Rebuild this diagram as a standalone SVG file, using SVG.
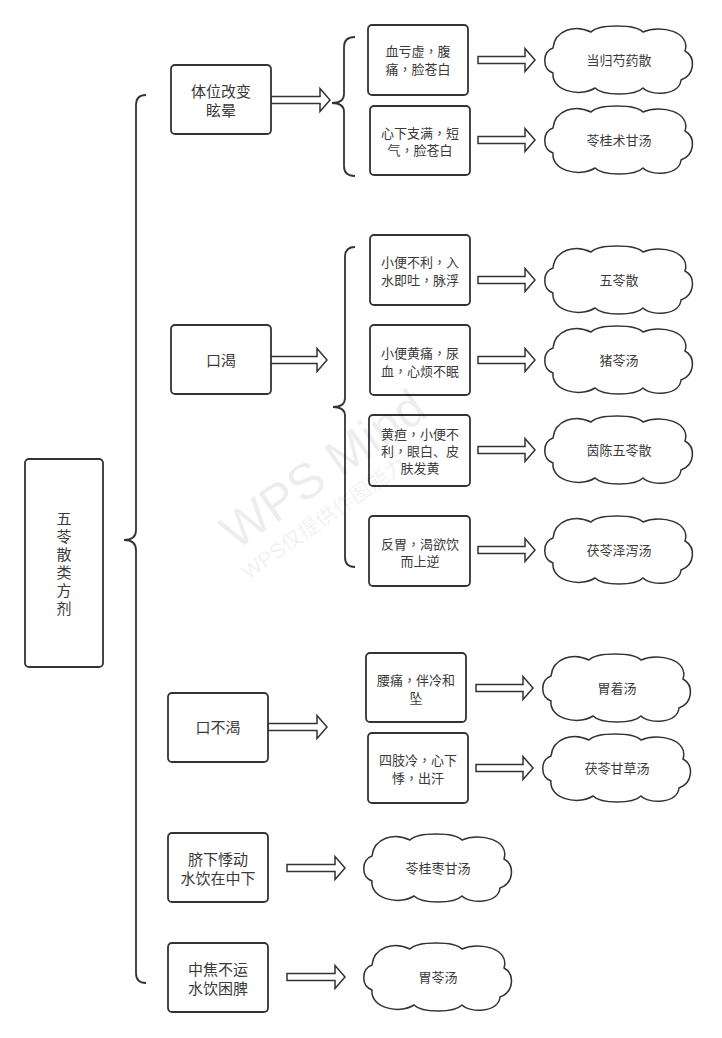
<svg xmlns="http://www.w3.org/2000/svg" xmlns:xlink="http://www.w3.org/1999/xlink" width="722" height="1038" viewBox="0 0 722 1038">
<style>
.box{fill:#fff;stroke:#333;stroke-width:1.8}
.cl{fill:#fff;stroke:#333;stroke-width:1.5}
.ar{fill:#fff;stroke:#333;stroke-width:1.5}
.br{fill:none;stroke:#333;stroke-width:1.8}
.t{font-family:"Liberation Sans","Noto Sans CJK SC",sans-serif;fill:#3a3a3a;text-anchor:middle}
.pc{font-family:"Liberation Sans","Noto Sans CJK TC",sans-serif}
.s15{font-size:15px}
.s13{font-size:13px}
.wm{font-family:"Liberation Sans","Noto Sans CJK SC",sans-serif;fill:#000;fill-opacity:0.07}
</style>
<defs>
<path id="cloud" class="cl" d="M10,22 C12,4 32,-2 48,6 C56,-2 92,-2 100,6 C118,-2 148,6 142,25 C153,31 152,49 138,54 C136,70 108,70 100,62 C92,70 60,70 52,62 C36,72 8,64 10,47 C-1,43 -1,26 10,22 Z"/>
</defs>
<rect width="722" height="1038" fill="#fff"/>
<g id="connectors">
<path class="br" d="M146,95 Q136,95 136,105 V530 Q136,540 124,540 Q136,540 136,550 V973 Q136,983 146,983"/>
<path class="br" d="M355,37 Q344,37 344,47 V94 Q344,103 332,103 Q344,103 344,112 V166 Q344,176 355,176"/>
<path class="br" d="M355,247 Q345,247 345,257 V398 Q345,407 333,407 Q345,407 345,416 V557 Q345,567 355,567"/>
<path class="ar" d="M271,96.5 H320 V88.5 L330,100 L320,111.5 V103.5 H271 Z"/>
<path class="ar" d="M268,356.5 H317 V348.5 L327,360 L317,371.5 V363.5 H268 Z"/>
<path class="ar" d="M268,723.5 H317 V715.5 L327,727 L317,738.5 V730.5 H268 Z"/>
<path class="ar" d="M287,864.5 H335 V856.5 L345,868 L335,879.5 V871.5 H287 Z"/>
<path class="ar" d="M287,973.5 H335 V965.5 L345,977 L335,988.5 V980.5 H287 Z"/>
<path class="ar" d="M478,56.5 H525 V48.5 L535,60 L525,71.5 V63.5 H478 Z"/>
<path class="ar" d="M478,136.5 H525 V128.5 L535,140 L525,151.5 V143.5 H478 Z"/>
<path class="ar" d="M478,276.5 H525 V268.5 L535,280 L525,291.5 V283.5 H478 Z"/>
<path class="ar" d="M478,356.5 H525 V348.5 L535,360 L525,371.5 V363.5 H478 Z"/>
<path class="ar" d="M478,446.5 H525 V438.5 L535,450 L525,461.5 V453.5 H478 Z"/>
<path class="ar" d="M478,546.5 H525 V538.5 L535,550 L525,561.5 V553.5 H478 Z"/>
<path class="ar" d="M476,684.5 H523 V676.5 L533,688 L523,699.5 V691.5 H476 Z"/>
<path class="ar" d="M476,764.5 H523 V756.5 L533,768 L523,779.5 V771.5 H476 Z"/>
</g>
<g id="root">
<rect class="box" x="25" y="459" width="78" height="208" rx="4"/>
<text class="t s15" x="64"><tspan x="64" y="523.5">五</tspan><tspan x="64" y="541.5">苓</tspan><tspan x="64" y="559.5">散</tspan><tspan x="64" y="577.5">类</tspan><tspan x="64" y="595.5">方</tspan><tspan x="64" y="613.5">剂</tspan></text>
</g>
<g id="n-tiwei">
<rect class="box" x="171" y="65" width="100" height="69" rx="4"/>
<text class="t s15"><tspan x="221" y="96.5">体位改变</tspan><tspan x="221" y="115.5">眩晕</tspan></text>
</g>
<g id="n-kouke">
<rect class="box" x="171" y="325" width="100" height="69" rx="4"/>
<text class="t s15" x="221" y="365.5">口渴</text>
</g>
<g id="n-kobuke">
<rect class="box" x="168" y="693" width="100" height="69" rx="4"/>
<text class="t s15" x="218" y="733">口不渴</text>
</g>
<g id="n-qixia">
<rect class="box" x="168" y="833" width="100" height="69" rx="4"/>
<text class="t s15"><tspan x="218" y="864.5">脐下悸动</tspan><tspan x="218" y="883.5">水饮在中下</tspan></text>
</g>
<g id="n-zhongjiao">
<rect class="box" x="168" y="943" width="100" height="69" rx="4"/>
<text class="t s15"><tspan x="218" y="974.5">中焦不运</tspan><tspan x="218" y="993.5">水饮困脾</tspan></text>
</g>
<g id="b1">
<rect class="box" x="368" y="25" width="100" height="70" rx="4"/>
<text class="t s13"><tspan x="418" y="55.7">血亏虚<tspan class="pc">，</tspan>腹</tspan><tspan x="418" y="73.7">痛<tspan class="pc">，</tspan>脸苍白</tspan></text>
</g>
<g id="b2">
<rect class="box" x="370" y="106" width="100" height="69" rx="4"/>
<text class="t s13"><tspan x="420" y="137.7">心下支满<tspan class="pc">，</tspan>短</tspan><tspan x="420" y="154.7">气<tspan class="pc">，</tspan>脸苍白</tspan></text>
</g>
<g id="b3">
<rect class="box" x="370" y="235" width="100" height="70" rx="4"/>
<text class="t s13"><tspan x="420" y="266.7">小便不利<tspan class="pc">，</tspan>入</tspan><tspan x="420" y="284.7">水即吐<tspan class="pc">，</tspan>脉浮</tspan></text>
</g>
<g id="b4">
<rect class="box" x="370" y="325" width="100" height="70" rx="4"/>
<text class="t s13"><tspan x="420" y="357.7">小便黄痛<tspan class="pc">，</tspan>尿</tspan><tspan x="420" y="375.7">血<tspan class="pc">，</tspan>心烦不眠</tspan></text>
</g>
<g id="b5">
<rect class="box" x="369" y="415" width="101" height="71" rx="4"/>
<text class="t s13"><tspan x="420" y="438.7">黄疸<tspan class="pc">，</tspan>小便不</tspan><tspan x="420" y="455.7">利<tspan class="pc">，</tspan>眼白、皮</tspan><tspan x="420" y="472.7">肤发黄</tspan></text>
</g>
<g id="b6">
<rect class="box" x="369" y="516" width="101" height="70" rx="4"/>
<text class="t s13"><tspan x="420" y="548.7">反胃<tspan class="pc">，</tspan>渴欲饮</tspan><tspan x="420" y="565.7">而上逆</tspan></text>
</g>
<g id="b7">
<rect class="box" x="366" y="653" width="100" height="69" rx="4"/>
<text class="t s13"><tspan x="416" y="684.7">腰痛<tspan class="pc">，</tspan>伴冷和</tspan><tspan x="416" y="702.7">坠</tspan></text>
</g>
<g id="b8">
<rect class="box" x="368" y="733" width="100" height="70" rx="4"/>
<text class="t s13"><tspan x="418" y="764.7">四肢冷<tspan class="pc">，</tspan>心下</tspan><tspan x="418" y="782.7">悸<tspan class="pc">，</tspan>出汗</tspan></text>
</g>
<g id="c1"><use xlink:href="#cloud" x="543" y="26"/><text class="t s13" x="619" y="64.7">当归芍药散</text></g>
<g id="c2"><use xlink:href="#cloud" x="543" y="106"/><text class="t s13" x="619" y="144.7">苓桂术甘汤</text></g>
<g id="c3"><use xlink:href="#cloud" x="543" y="246"/><text class="t s13" x="619" y="284.7">五苓散</text></g>
<g id="c4"><use xlink:href="#cloud" x="543" y="326"/><text class="t s13" x="619" y="364.7">猪苓汤</text></g>
<g id="c5"><use xlink:href="#cloud" x="543" y="416"/><text class="t s13" x="619" y="454.7">茵陈五苓散</text></g>
<g id="c6"><use xlink:href="#cloud" x="543" y="516"/><text class="t s13" x="619" y="554.7">茯苓泽泻汤</text></g>
<g id="c7"><use xlink:href="#cloud" x="541" y="654"/><text class="t s13" x="617" y="692.7">胃着汤</text></g>
<g id="c8"><use xlink:href="#cloud" x="541" y="734"/><text class="t s13" x="617" y="772.7">茯苓甘草汤</text></g>
<g id="c9"><use xlink:href="#cloud" x="362" y="834"/><text class="t s13" x="438" y="872.7">苓桂枣甘汤</text></g>
<g id="c10"><use xlink:href="#cloud" x="362" y="943"/><text class="t s13" x="438" y="981.7">胃苓汤</text></g>
<g id="watermark">
<text class="wm" font-size="50" transform="translate(236,551) rotate(-35)">WPS Mind</text>
<text class="wm" font-size="21" transform="translate(248,580) rotate(-35)">WPS仅提供作图能力</text>
</g>
</svg>
